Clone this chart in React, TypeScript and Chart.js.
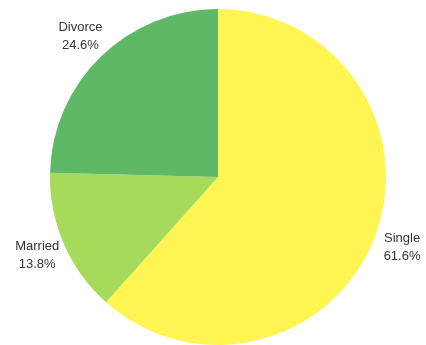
import React, { useEffect, useRef } from "react";
import { Chart, registerables } from "chart.js";

Chart.register(...registerables);

const categories = ["Single", "Married", "Divorce"];
const values = [61.6, 13.8, 24.6];
const colors = ["#FFF552", "#A6DA5B", "#5EB866"];

const labelPlugin = {
  id: "outerLabels",
  afterDraw(chart: any) {
    const ctx = chart.ctx;
    const meta = chart.getDatasetMeta(0);
    ctx.save();
    ctx.font = '13px "Liberation Sans", Arial, sans-serif';
    ctx.fillStyle = "#333333";
    ctx.textAlign = "center";
    ctx.textBaseline = "middle";
    meta.data.forEach((arc: any, i: number) => {
      const { x, y, startAngle, endAngle, outerRadius } = arc.getProps(
        ["x", "y", "startAngle", "endAngle", "outerRadius"],
        true
      );
      const mid = (startAngle + endAngle) / 2;
      const r = outerRadius + 29;
      const lx = x + Math.cos(mid) * r;
      const ly = y + Math.sin(mid) * r;
      ctx.fillText(categories[i], lx, ly - 9);
      ctx.fillText(values[i].toFixed(1) + "%", lx, ly + 9);
    });
    ctx.restore();
  },
};

export default function App() {
  const ref = useRef<HTMLCanvasElement>(null);
  useEffect(() => {
    document.body.style.margin = "0";
    const chart = new Chart(ref.current!, {
      type: "pie",
      data: {
        labels: categories,
        datasets: [
          {
            data: values,
            backgroundColor: colors,
            borderWidth: 0,
          },
        ],
      },
      options: {
        animation: false,
        responsive: false,
        layout: { padding: { left: 10, right: 0, top: 9, bottom: 0 } },
        plugins: {
          legend: { display: false },
          tooltip: { enabled: false },
        },
      },
      plugins: [labelPlugin],
    });
    return () => chart.destroy();
  }, []);
  return (
    <div style={{ width: 426, height: 345 }}>
      <canvas ref={ref} width={426} height={345} />
    </div>
  );
}
